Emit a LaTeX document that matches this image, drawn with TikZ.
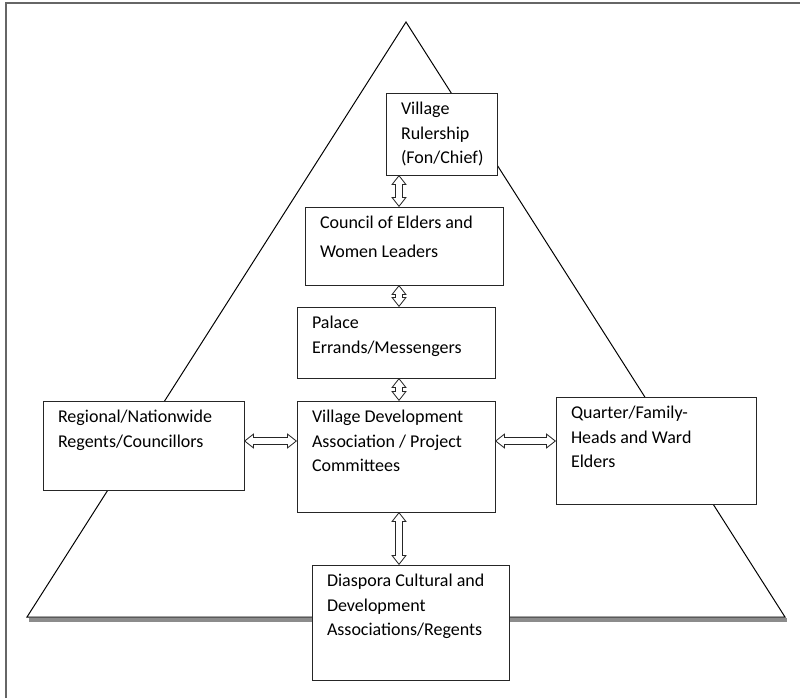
\documentclass[tikz,border=0pt]{standalone}
\usepackage{fontspec}
\setmainfont{Carlito}
\usetikzlibrary{positioning,arrows.meta}
\newlength\pxu
\setlength\pxu{0.025cm}
% text inside a box of given width/height (in px), set from the top
\newcommand{\boxtxt}[3]{\begin{minipage}[c][#2\pxu][t]{#1\pxu}\raggedright #3\end{minipage}}
\tikzset{
chart/.style={
    x=0.025cm,
    y=-0.025cm,
    font=\fontsize{12.8}{17.5}\selectfont,
    semithick
},
box/.style={
    rectangle,
    draw=black!85,
    line width=0.7pt,
    anchor=north west,
    inner xsep=15\pxu,
    inner ysep=9\pxu,
    outer sep=0pt,
    fill=white
},
link/.style={
    draw=black!85,
    line width=5pt,
    {Triangle[length=7pt,width=11pt,line width=0pt]}-{Triangle[length=7pt,width=11pt,line width=0pt]},
    postaction={
        draw=white,
        line width=3.6pt,
        shorten >=1.13pt,
        shorten <=1.13pt,
        {Triangle[length=5.17pt,width=8.13pt,line width=0pt]}-{Triangle[length=5.17pt,width=8.13pt,line width=0pt]}
    }
},
frame/.style={
    draw=black!60,
    line width=1.4pt
}}

\begin{document}
\begin{tikzpicture}[chart]
\useasboundingbox (0,0) rectangle (800,698);
\draw[frame] (6,698) -- (6,3) -- (800,3);

% the pyramid
\draw[black!45, line width=2.2pt] (29,620) -- (787,620);
\draw[line width=0.7pt] (406,22) -- (27,617) -- (785,617) -- cycle;

\coordinate (spine) at (399,0);
\coordinate (row) at (0,441);

\node[box]    (rule)      at (386,93)     {\boxtxt{81}{64}{Village\\Rulership\\(Fon/Chief)}};
\node[box]    (council)   at (305,207)    {\boxtxt{168}{60}{Council of Elders and\\[3pt]Women Leaders}};
\node[box]    (palace)    at (297,307)    {\boxtxt{168}{53}{Palace\\Errands/Messengers}};
\node[box]    (vda)       at (297,401)    {\boxtxt{168}{93}{Village Development\\Association / Project\\Committees}};
\node[box]    (regional)  at (43,401)     {\boxtxt{171}{71}{Regional/Nationwide\\Regents/Councillors}};
\node[box]    (quarter)   at (556,397)    {\boxtxt{170}{89}{Quarter/Family-\\Heads and Ward\\Elders}};
\node[box]    (diaspora)  at (312,565)    {\boxtxt{167}{97}{Diaspora Cultural and\\Development\\Associations/Regents}};

\path    (rule.south -| spine)        edge[link]    (council.north -| spine);
\path    (council.south -| spine)     edge[link]    (palace.north -| spine);
\path    (palace.south -| spine)      edge[link]    (vda.north -| spine);
\path    (vda.south -| spine)         edge[link]    (diaspora.north -| spine);
\path    (regional.east |- row)       edge[link]    (vda.west |- row);
\path    (vda.east |- row)            edge[link]    (quarter.west |- row);
\end{tikzpicture}
\end{document}
